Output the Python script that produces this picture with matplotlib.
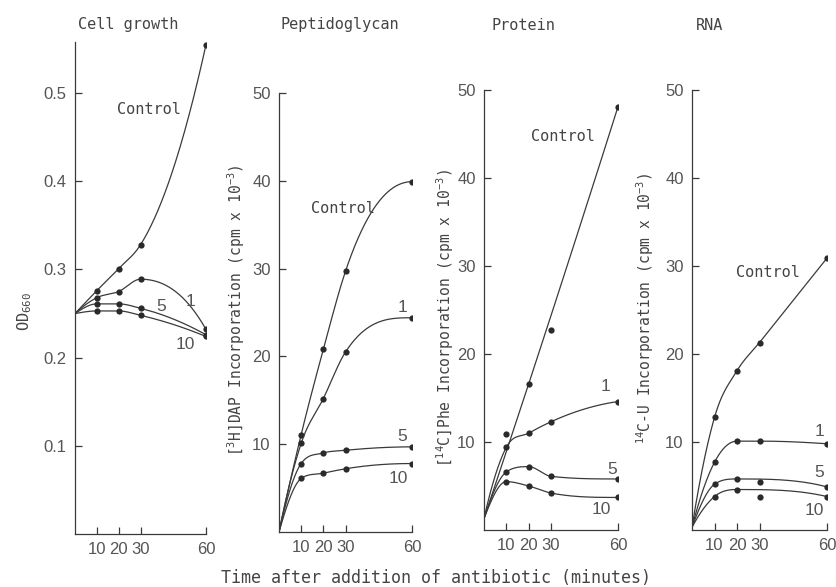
import numpy as np
import matplotlib
matplotlib.use('Agg')
import matplotlib.pyplot as plt

# sampling times (minutes)
times = [0, 10, 20, 30, 60]

# Cell growth (OD660)
growth_control = [0.25, 0.276, 0.301, 0.328, 0.555]
growth_1 = [0.25, 0.268, 0.275, 0.289, 0.232]
growth_5 = [0.25, 0.261, 0.261, 0.256, 0.226]
growth_10 = [0.25, 0.253, 0.253, 0.248, 0.224]

# Peptidoglycan ([3H]DAP, cpm x 10^-3)
pepti_control = [0, 11.1, 20.8, 29.7, 39.9]
pepti_1 = [0, 10.1, 15.2, 20.5, 24.4]
pepti_5 = [0, 7.8, 9.0, 9.3, 9.7]
pepti_10 = [0, 6.1, 6.7, 7.2, 7.8]

# Protein ([14C]Phe)
protein_control = [1.3, 10.9, 16.6, 22.7, 48.1]
protein_1 = [1.3, 9.4, 11.0, 12.3, 14.6]
protein_5 = [1.3, 6.6, 7.2, 6.1, 5.8]
protein_10 = [1.3, 5.5, 5.0, 4.2, 3.7]

# RNA (14C-U)
rna_control = [0.3, 12.8, 18.1, 21.3, 30.9]
rna_1 = [0.3, 7.7, 10.1, 10.1, 9.8]
rna_5 = [0.3, 5.2, 5.8, 5.4, 4.9]
rna_10 = [0.3, 3.8, 4.6, 3.8, 3.8]

# time points the hand-drawn curve does not go through
protein_control_skip = [10, 30]
rna_5_skip = [30]
rna_10_skip = [30]

series_labels = ['Control', '1', '5', '10']

INK = '#3a3a3a'
MONO = ['DejaVu Sans Mono', 'DejaVu Sans']
SANS = 'Liberation Sans'

plt.rcParams['mathtext.fontset'] = 'custom'
plt.rcParams['mathtext.rm'] = 'DejaVu Sans Mono'
plt.rcParams['mathtext.it'] = 'DejaVu Sans Mono'
plt.rcParams['mathtext.default'] = 'regular'


def smooth_curve(x, y, xs):
    # hermite spline: three-point slopes, limited so it does not overshoot
    x = np.asarray(x, float)
    y = np.asarray(y, float)
    h = np.diff(x)
    d = np.diff(y) / h
    m = np.zeros_like(y)
    if len(x) == 2:
        m[:] = d[0]
    else:
        for k in range(1, len(x) - 1):
            if d[k - 1] * d[k] <= 0:
                m[k] = 0.0
                continue
            s = (h[k] * d[k - 1] + h[k - 1] * d[k]) / (h[k - 1] + h[k])
            lim = 3 * min(abs(d[k - 1]), abs(d[k]))
            m[k] = np.sign(s) * min(abs(s), lim)

        def end(h0, h1, d0, d1):
            s = ((2 * h0 + h1) * d0 - h0 * d1) / (h0 + h1)
            if np.sign(s) != np.sign(d0):
                return 0.0
            if np.sign(d0) != np.sign(d1) and abs(s) > 3 * abs(d0):
                return 3 * d0
            return s
        m[0] = end(h[0], h[1], d[0], d[1])
        m[-1] = end(h[-1], h[-2], d[-1], d[-2])
    idx = np.clip(np.searchsorted(x, xs) - 1, 0, len(x) - 2)
    t = (xs - x[idx]) / h[idx]
    h00 = 2 * t**3 - 3 * t**2 + 1
    h10 = t**3 - 2 * t**2 + t
    h01 = -2 * t**3 + 3 * t**2
    h11 = t**3 - t**2
    return h00 * y[idx] + h10 * h[idx] * m[idx] + h01 * y[idx + 1] + h11 * h[idx] * m[idx + 1]


def draw_series(ax, values, skip=()):
    x = np.array(times, float)
    y = np.array(values, float)
    keep = np.array([t not in skip for t in times])
    xs = np.linspace(0, 60, 400)
    ax.plot(xs, smooth_curve(x[keep], y[keep], xs), color=INK, lw=0.9)
    ax.plot(x[1:], y[1:], 'o', color='#2a2a2a', ms=4.5, mec='none')


fig = plt.figure(figsize=(8.36, 5.87), dpi=100)
W, H = 836, 587


def make_axes(x0, x1, ytop, ybot):
    return fig.add_axes([x0 / W, 1 - ybot / H, (x1 - x0) / W, (ybot - ytop) / H])


panels = [
    dict(box=(75, 206, 42, 534), ylim=(0, 0.558), yticks=[0.1, 0.2, 0.3, 0.4, 0.5],
         fmt='{:.1f}', title='Cell growth', tx=78,
         data=[growth_control, growth_1, growth_5, growth_10], skips=[(), (), (), ()],
         labels=[(34, 0.482), (53, 0.264), (39.5, 0.258), (50.5, 0.215)]),
    dict(box=(279, 412, 93, 532), ylim=(0, 50), yticks=[10, 20, 30, 40, 50],
         fmt='{:.0f}', title='Peptidoglycan', tx=280,
         data=[pepti_control, pepti_1, pepti_5, pepti_10], skips=[(), (), (), ()],
         labels=[(29, 36.8), (55.5, 25.6), (55.7, 10.9), (53.7, 6.1)]),
    dict(box=(484, 618, 90, 530), ylim=(0, 50), yticks=[10, 20, 30, 40, 50],
         fmt='{:.0f}', title='Protein', tx=491,
         data=[protein_control, protein_1, protein_5, protein_10],
         skips=[protein_control_skip, (), (), ()],
         labels=[(35.4, 44.7), (54.3, 16.3), (57.3, 6.9), (52.5, 2.3)]),
    dict(box=(692, 827, 90, 530), ylim=(0, 50), yticks=[10, 20, 30, 40, 50],
         fmt='{:.0f}', title='RNA', tx=696,
         data=[rna_control, rna_1, rna_5, rna_10], skips=[(), (), rna_5_skip, rna_10_skip],
         labels=[(33.8, 29.3), (56.5, 11.2), (56.5, 6.5), (54.4, 2.2)]),
]

for p in panels:
    ax = make_axes(*p['box'])
    for vals, sk in zip(p['data'], p['skips']):
        draw_series(ax, vals, sk)
    ax.set_xlim(0, 60)
    ax.set_ylim(*p['ylim'])
    ax.set_xticks([10, 20, 30, 60])
    ax.set_yticks(p['yticks'])
    ax.set_yticklabels([p['fmt'].format(v) for v in p['yticks']])
    for s in ['top', 'right']:
        ax.spines[s].set_visible(False)
    for s in ['left', 'bottom']:
        ax.spines[s].set_color(INK)
        ax.spines[s].set_linewidth(0.9)
    ax.tick_params(direction='in', length=5, width=0.9, color=INK, labelcolor='#555555',
                   labelsize=12, pad=6)
    for lab in ax.get_xticklabels() + ax.get_yticklabels():
        lab.set_family(SANS)
    ax.patch.set_alpha(0)
    for name, (lx, ly) in zip(series_labels, p['labels']):
        if name == 'Control':
            ax.text(lx, ly, name, family=MONO, fontsize=11, color='#444444',
                    ha='center', va='center')
        else:
            ax.text(lx, ly, name, family=SANS, fontsize=12.5, color='#555555',
                    ha='center', va='center')
    fig.text(p['tx'] / W, 1 - 25 / H, p['title'], family=MONO, fontsize=11,
             color='#444444', ha='left', va='center')

# y-axis labels
fig.text(25 / W, 1 - 311 / H, 'OD$_{660}$', family=MONO, fontsize=11, color='#444444',
         rotation=90, ha='center', va='center')
fig.text(236 / W, 1 - 310 / H, '[$^{3}$H]DAP Incorporation (cpm x 10$^{-3}$)', family=MONO,
         fontsize=10.5, color='#444444', rotation=90, ha='center', va='center')
fig.text(445 / W, 1 - 318 / H, '[$^{14}$C]Phe Incorporation (cpm x 10$^{-3}$)', family=MONO,
         fontsize=10.5, color='#444444', rotation=90, ha='center', va='center')
fig.text(645 / W, 1 - 308 / H, '$^{14}$C-U Incorporation (cpm x 10$^{-3}$)', family=MONO,
         fontsize=10.5, color='#444444', rotation=90, ha='center', va='center')

fig.text(436 / W, 1 - 578 / H, 'Time after addition of antibiotic (minutes)', family=MONO,
         fontsize=12, color='#444444', ha='center', va='center')

fig.savefig('out.png', dpi=100, facecolor='white')
